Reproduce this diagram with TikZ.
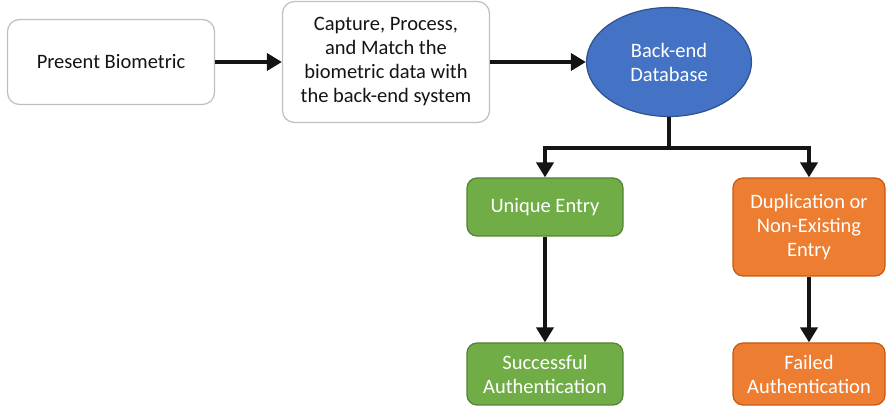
\documentclass[tikz,border=0pt]{standalone}
\usepackage{fontspec}
\setmainfont{Carlito}
\usepackage{xcolor}
\usepackage{tikz}
\usetikzlibrary{shapes.geometric, arrows.meta, positioning, calc}
\definecolor{BioGray}{RGB}{191, 191, 191}
\definecolor{BioBlue}{RGB}{68, 114, 196}
\definecolor{BioBlueDark}{RGB}{47, 82, 143}
\definecolor{BioGreen}{RGB}{112, 173, 71}
\definecolor{BioGreenDark}{RGB}{84, 130, 53}
\definecolor{BioOrange}{RGB}{237, 125, 49}
\definecolor{BioOrangeDark}{RGB}{197, 90, 17}
\definecolor{BioText}{RGB}{20, 20, 20}

\tikzset{
  whitebox/.style={draw=BioGray, fill=white, line width=1.2pt, rounded corners=12pt,
    align=center, text=BioText, font=\fontsize{20.5}{24}\selectfont},
  okbox/.style={draw=BioGreenDark, fill=BioGreen, line width=1.2pt, rounded corners=10pt,
    align=center, text=white, font=\fontsize{20.5}{24}\selectfont},
  failbox/.style={draw=BioOrangeDark, fill=BioOrange, line width=1.2pt, rounded corners=10pt,
    align=center, text=white, font=\fontsize{20.5}{24}\selectfont},
  conn/.style={line width=4.5pt, draw=BioText},
  arr/.style={conn, -{Triangle[length=15pt,width=17pt]}},
}

\begin{document}
\begin{tikzpicture}[x=1pt,y=1pt]
  \path[use as bounding box] (0,0) rectangle (886,406);

  % top row
  \node[whitebox, minimum width=207pt, minimum height=85pt] (present) at (111,344) {Present Biometric};
  \node[whitebox, minimum width=207pt, minimum height=121pt] (capture) at (386,344)
    {Capture, Process,\\and Match the\\biometric data with\\the back-end system};
  \node[ellipse, draw=BioBlueDark, fill=BioBlue, line width=1.2pt, minimum width=165pt,
    minimum height=109pt, inner sep=0pt, align=center, text=white,
    font=\fontsize{20.5}{24}\selectfont] (db) at (669,344) {Back-end\\Database};

  % branches
  \node[okbox, minimum width=156pt, minimum height=58pt] (unique) at (545,199) {Unique Entry};
  \node[failbox, minimum width=152pt, minimum height=98pt] (dup) at (809,179)
    {Duplication or\\Non-Existing\\Entry};
  \node[okbox, minimum width=156pt, minimum height=62pt] (success) at (545,32)
    {Successful\\Authentication};
  \node[failbox, minimum width=152pt, minimum height=62pt] (failed) at (809,32)
    {Failed\\Authentication};

  % connectors
  \coordinate (split) at (669,258);
  \draw[arr] (present) -- (capture);
  \draw[arr] (capture) -- (db);
  \draw[conn] (db.south) -- (split);
  \draw[arr] (split) -| (unique.north);
  \draw[arr] (split) -| (dup.north);
  \draw[arr] (unique) -- (success);
  \draw[arr] (dup) -- (failed);
\end{tikzpicture}
\end{document}
